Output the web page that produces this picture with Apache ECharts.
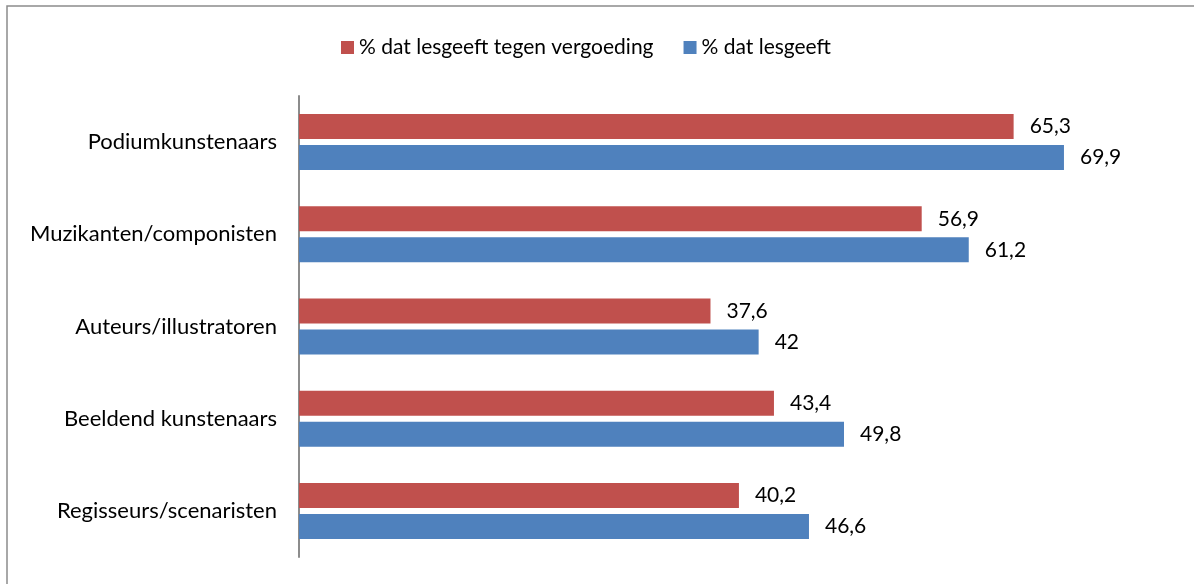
<!DOCTYPE html>
<html>
<head>
<meta charset="utf-8">
<script src="https://cdn.jsdelivr.net/npm/echarts@6/dist/echarts.min.js"></script>
<style>
  html, body { margin: 0; padding: 0; background: #ffffff; }
  #chart { width: 1194px; height: 584px; }
</style>
</head>
<body>
<div id="chart"></div>
<script>
// Beroepsgroepen, van boven naar onder
const categories = [
  'Podiumkunstenaars',
  'Muzikanten/componisten',
  'Auteurs/illustratoren',
  'Beeldend kunstenaars',
  'Regisseurs/scenaristen'
];
const seriesNames = ['% dat lesgeeft tegen vergoeding', '% dat lesgeeft'];
const tegenVergoeding = [65.3, 56.9, 37.6, 43.4, 40.2];
const lesgeeft = [69.9, 61.2, 42, 49.8, 46.6];

const FONT = 'Lato, "Open Sans", sans-serif';
const fmt = p => String(p.value).replace('.', ',');

const chart = echarts.init(document.getElementById('chart'), null, { renderer: 'canvas' });
chart.setOption({
  animation: false,
  backgroundColor: '#ffffff',
  textStyle: { fontFamily: FONT },
  graphic: [{
    type: 'rect',
    shape: { x: 7, y: 6, width: 1190, height: 600 },
    style: { fill: 'none', stroke: '#8c8c8c', lineWidth: 1.5 },
    silent: true
  }],
  legend: {
    top: 32,
    left: 336,
    itemWidth: 13,
    itemHeight: 13,
    itemGap: 30,
    icon: 'rect',
    textStyle: { fontSize: 21, color: '#000', fontFamily: FONT },
    data: seriesNames
  },
  grid: { left: 299, right: 19.5, top: 96, bottom: 27, containLabel: false },
  xAxis: {
    type: 'value',
    min: 0,
    max: 80,
    show: false
  },
  yAxis: {
    type: 'category',
    inverse: true,
    data: categories,
    axisLine: { show: true, lineStyle: { color: '#8c8c8c', width: 2 } },
    axisTick: { show: false },
    axisLabel: { margin: 22, fontSize: 22, color: '#000', fontFamily: FONT }
  },
  series: [
    {
      name: seriesNames[0],
      type: 'bar',
      data: tegenVergoeding,
      barWidth: 25,
      barGap: '24%',
      itemStyle: { color: '#C0504D' },
      label: { show: true, position: 'right', distance: 16, formatter: fmt, fontSize: 21, color: '#000', fontFamily: FONT }
    },
    {
      name: seriesNames[1],
      type: 'bar',
      data: lesgeeft,
      barWidth: 25,
      itemStyle: { color: '#4F81BD' },
      label: { show: true, position: 'right', distance: 16, formatter: fmt, fontSize: 21, color: '#000', fontFamily: FONT }
    }
  ]
});
</script>
</body>
</html>
